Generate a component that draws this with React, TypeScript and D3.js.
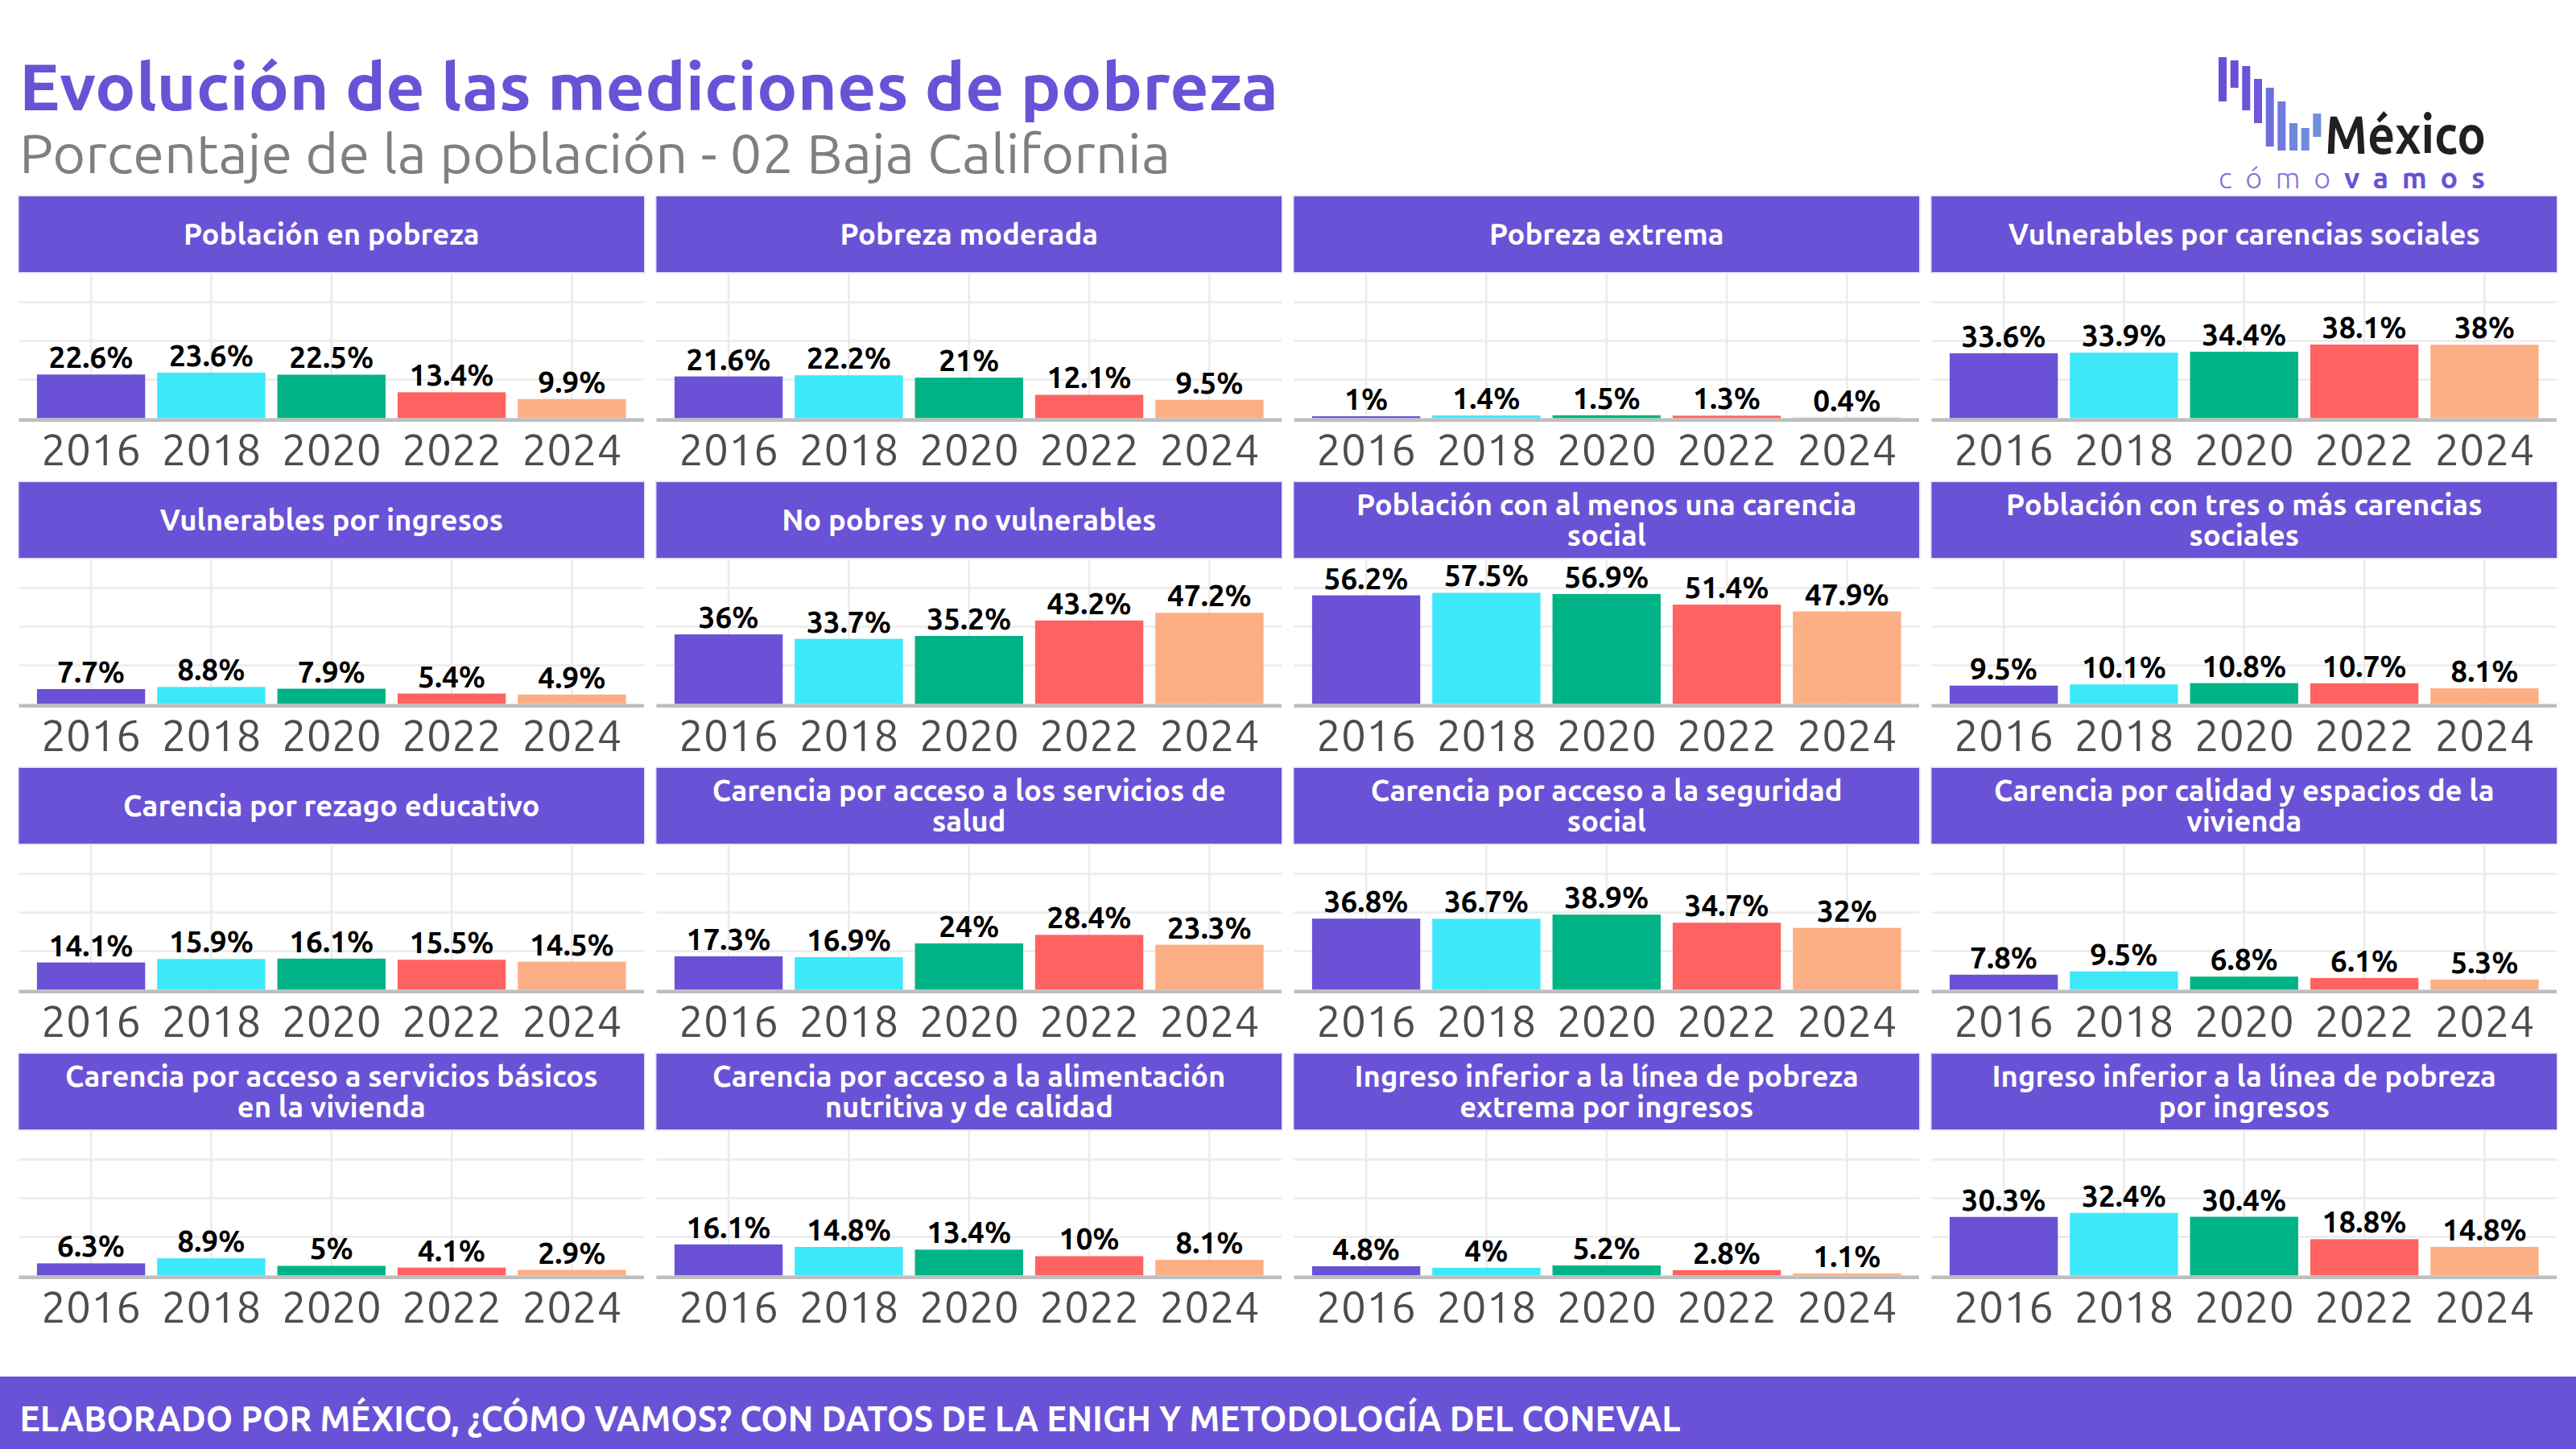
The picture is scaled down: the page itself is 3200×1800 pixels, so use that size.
import React from "react";
import * as d3 from "d3";

// ---- Data -------------------------------------------------------------
const YEARS = ["2016", "2018", "2020", "2022", "2024"];
const YEAR_COLORS = ["#6A51D6", "#3DE8F9", "#00B386", "#FF6361", "#FCAF84"];

const poblacionEnPobreza = [22.6, 23.6, 22.5, 13.4, 9.9];
const pobrezaModerada = [21.6, 22.2, 21, 12.1, 9.5];
const pobrezaExtrema = [1, 1.4, 1.5, 1.3, 0.4];
const vulnerablesCarencias = [33.6, 33.9, 34.4, 38.1, 38];
const vulnerablesIngresos = [7.7, 8.8, 7.9, 5.4, 4.9];
const noPobresNoVulnerables = [36, 33.7, 35.2, 43.2, 47.2];
const alMenosUnaCarencia = [56.2, 57.5, 56.9, 51.4, 47.9];
const tresOMasCarencias = [9.5, 10.1, 10.8, 10.7, 8.1];
const rezagoEducativo = [14.1, 15.9, 16.1, 15.5, 14.5];
const serviciosSalud = [17.3, 16.9, 24, 28.4, 23.3];
const seguridadSocial = [36.8, 36.7, 38.9, 34.7, 32];
const calidadEspacios = [7.8, 9.5, 6.8, 6.1, 5.3];
const serviciosBasicos = [6.3, 8.9, 5, 4.1, 2.9];
const alimentacion = [16.1, 14.8, 13.4, 10, 8.1];
const lineaPobrezaExtrema = [4.8, 4, 5.2, 2.8, 1.1];
const lineaPobreza = [30.3, 32.4, 30.4, 18.8, 14.8];

const PANEL_TITLES = [
  "Población en pobreza",
  "Pobreza moderada",
  "Pobreza extrema",
  "Vulnerables por carencias sociales",
  "Vulnerables por ingresos",
  "No pobres y no vulnerables",
  "Población con al menos una carencia social",
  "Población con tres o más carencias sociales",
  "Carencia por rezago educativo",
  "Carencia por acceso a los servicios de salud",
  "Carencia por acceso a la seguridad social",
  "Carencia por calidad y espacios de la vivienda",
  "Carencia por acceso a servicios básicos en la vivienda",
  "Carencia por acceso a la alimentación nutritiva y de calidad",
  "Ingreso inferior a la línea de pobreza extrema por ingresos",
  "Ingreso inferior a la línea de pobreza por ingresos",
];

const PANEL_VALUES = [
  poblacionEnPobreza,
  pobrezaModerada,
  pobrezaExtrema,
  vulnerablesCarencias,
  vulnerablesIngresos,
  noPobresNoVulnerables,
  alMenosUnaCarencia,
  tresOMasCarencias,
  rezagoEducativo,
  serviciosSalud,
  seguridadSocial,
  calidadEspacios,
  serviciosBasicos,
  alimentacion,
  lineaPobrezaExtrema,
  lineaPobreza,
];

const Y_GRID = [20, 40, 60];
const Y_MAX = 75.6;

const TITLE = "Evolución de las mediciones de pobreza";
const SUBTITLE = "Porcentaje de la población - 02 Baja California";
const FOOTER = "ELABORADO POR MÉXICO, ¿CÓMO VAMOS? CON DATOS DE LA ENIGH Y METODOLOGÍA DEL CONEVAL";

// ---- Layout -----------------------------------------------------------
const W = 3200;
const H = 1800;
const PURPLE = "#6A52D6";
const FONT = "Ubuntu, 'Open Sans', 'Noto Sans', sans-serif";

const COLS = 4;
const COL_X0 = 23.5;
const COL_PITCH = 792;
const PANEL_W = 776.5;
const ROW_Y0 = 244;
const ROW_PITCH = 355;
const STRIP_H = 94;
const PLOT_H = 181.5;

// greedy word wrap, lines kept under 40 characters
function wrap(text: string, width = 40): string[] {
  const words = text.split(" ");
  const lines: string[] = [];
  let cur = "";
  for (const w of words) {
    const next = cur ? cur + " " + w : w;
    if (next.length < width) cur = next;
    else {
      lines.push(cur);
      cur = w;
    }
  }
  if (cur) lines.push(cur);
  return lines;
}

// Logo bars: [x offset, top, bottom, colour] relative to the logo origin
const LOGO_BARS: [number, number, number, string][] = [
  [0, 71, 126, "#6A4ED8"],
  [14.7, 75, 109, "#6B4FD8"],
  [29.3, 82, 137, "#6D52DA"],
  [44, 98, 153, "#6F57DB"],
  [58.7, 109, 182, "#6E70DB"],
  [73.3, 126, 187, "#6E7BDC"],
  [88, 153, 187, "#6E89DC"],
  [102.7, 159, 187, "#6E8DDC"],
  [117.3, 141, 170, "#6E91DD"],
];

function Panel({ index }: { index: number }) {
  const col = index % COLS;
  const row = Math.floor(index / COLS);
  const x0 = COL_X0 + col * COL_PITCH;
  const stripTop = ROW_Y0 + row * ROW_PITCH;
  const plotTop = stripTop + STRIP_H;
  const zero = plotTop + PLOT_H;
  const values = PANEL_VALUES[index];

  const x = d3
    .scaleBand<string>()
    .domain(YEARS)
    .range([x0, x0 + PANEL_W])
    .paddingInner(0.1)
    .paddingOuter(0.15);
  const y = d3.scaleLinear().domain([0, Y_MAX]).range([zero, plotTop]);

  const lines = wrap(PANEL_TITLES[index]);
  const stripMid = stripTop + STRIP_H / 2;
  const lineH = 38;

  return (
    <g>
      {/* strip */}
      <rect x={x0 - 1.5} y={stripTop - 1.5} width={PANEL_W + 3} height={STRIP_H + 3} fill="#E2DDF8" />
      <rect x={x0} y={stripTop} width={PANEL_W} height={STRIP_H} fill={PURPLE} />
      {lines.map((ln, i) => (
        <text
          key={i}
          x={x0 + PANEL_W / 2}
          y={stripMid + (i - (lines.length - 1) / 2) * lineH + 13}
          textAnchor="middle"
          fontFamily={FONT}
          fontWeight={600}
          fontSize={36.5}
          fill="#FFFFFF"
        >
          {ln}
        </text>
      ))}
      {/* grid */}
      {Y_GRID.map((g) => (
        <line key={g} x1={x0} x2={x0 + PANEL_W} y1={y(g)} y2={y(g)} stroke="#EBEBEB" strokeWidth={2.5} />
      ))}
      {YEARS.map((yr) => {
        const cx = (x(yr) as number) + x.bandwidth() / 2;
        return <line key={yr} x1={cx} x2={cx} y1={plotTop} y2={zero} stroke="#EBEBEB" strokeWidth={2.5} />;
      })}
      {/* bars */}
      {YEARS.map((yr, i) => (
        <rect
          key={yr}
          x={x(yr)}
          y={y(values[i])}
          width={x.bandwidth()}
          height={zero - y(values[i])}
          fill={YEAR_COLORS[i]}
        />
      ))}
      {/* axis line */}
      <rect x={x0} y={zero} width={PANEL_W} height={4.5} fill="#BEBEBE" />
      {/* value labels */}
      {YEARS.map((yr, i) => (
        <text
          key={yr}
          x={(x(yr) as number) + x.bandwidth() / 2}
          y={y(values[i]) - 8}
          textAnchor="middle"
          fontFamily={FONT}
          fontWeight={700}
          fontSize={37}
          fill="#000000"
        >
          {`${values[i]}%`}
        </text>
      ))}
      {/* year labels */}
      {YEARS.map((yr) => (
        <text
          key={yr}
          x={(x(yr) as number) + x.bandwidth() / 2}
          y={zero + 58.5}
          textAnchor="middle"
          fontFamily={FONT}
          fontSize={55}
          fill="#4D4D4D"
        >
          {yr}
        </text>
      ))}
    </g>
  );
}

export default function App() {
  return (
    <svg
      width={W}
      height={H}
      viewBox={`0 0 ${W} ${H}`}
      style={{ position: "absolute", left: 0, top: 0, display: "block", background: "#FFFFFF" }}
    >
      <rect x={0} y={0} width={W} height={H} fill="#FFFFFF" />

      {/* header */}
      <text x={24} y={137} fontFamily={FONT} fontWeight={700} fontSize={82} fill={PURPLE} textLength={1564} lengthAdjust="spacingAndGlyphs">
        {TITLE}
      </text>
      <text x={24} y={215} fontFamily={FONT} fontSize={67} fill="#7F7F7F" textLength={1430} lengthAdjust="spacingAndGlyphs">
        {SUBTITLE}
      </text>

      {/* logo */}
      <g transform="translate(2756,0)">
        {LOGO_BARS.map(([bx, t, b, c], i) => (
          <rect key={i} x={bx} y={t} width={10} height={b - t} fill={c} />
        ))}
        <text x={132} y={191} fontFamily={FONT} fontWeight={700} fontSize={66} fill="#231F20" textLength={200} lengthAdjust="spacingAndGlyphs">
          México
        </text>
        <text x={0} y={234} fontFamily={FONT} fontSize={36} textLength={331} lengthAdjust="spacing">
          <tspan fill="#8272DE" fontWeight={300}>cómo</tspan>
          <tspan fill={PURPLE} fontWeight={700}>vamos</tspan>
        </text>
      </g>

      {PANEL_TITLES.map((_, i) => (
        <Panel key={i} index={i} />
      ))}

      {/* footer */}
      <rect x={0} y={1710} width={W} height={90} fill={PURPLE} />
      <text x={24.5} y={1778} fontFamily={FONT} fontWeight={700} fontSize={44} fill="#FFFFFF" textLength={2063} lengthAdjust="spacingAndGlyphs">
        {FOOTER}
      </text>
    </svg>
  );
}
